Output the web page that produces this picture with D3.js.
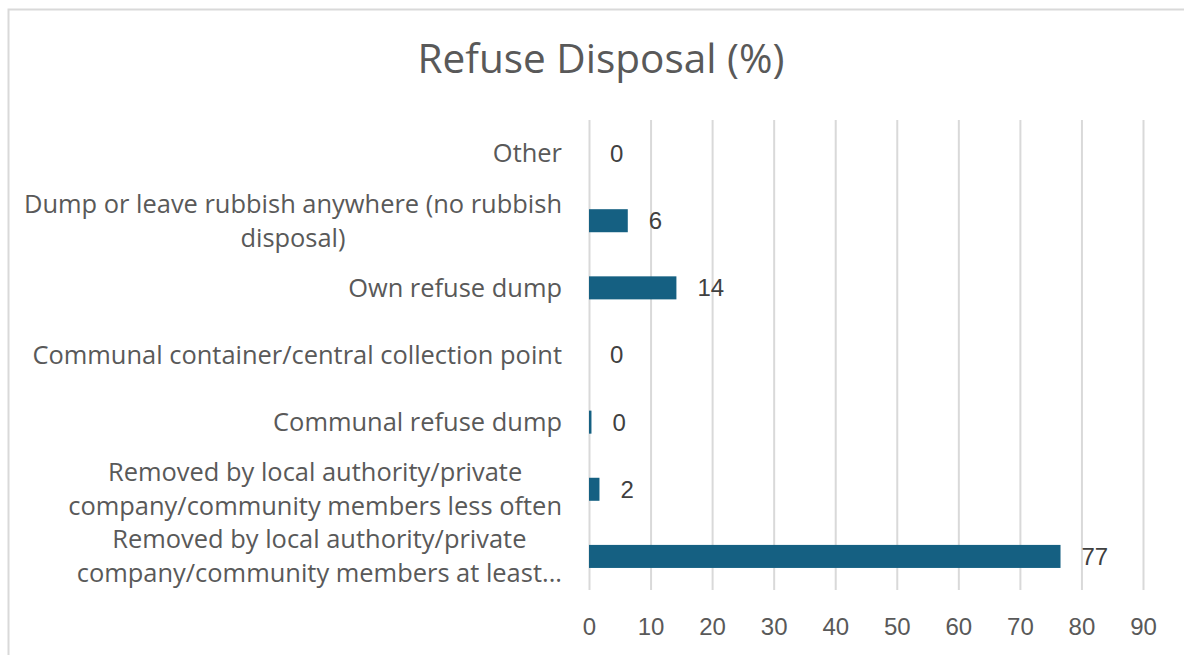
<!DOCTYPE html>
<html><head><meta charset="utf-8">
<script src="https://cdn.jsdelivr.net/npm/d3@7"></script>
<style>body{margin:0;background:#fff;} svg{display:block;}</style>
</head><body>
<svg id="c" width="1184" height="655"></svg>
<script>
const title = "Refuse Disposal (%)";
const categories = [
  "Other",
  "Dump or leave rubbish anywhere (no rubbish\ndisposal)",
  "Own refuse dump",
  "Communal container/central collection point",
  "Communal refuse dump",
  "Removed by local authority/private\ncompany/community members less often",
  "Removed by local authority/private\ncompany/community members at least..."
];
const values = [0, 6.3, 14.2, 0, 0.4, 1.7, 76.6];
const xTicks = [0, 10, 20, 30, 40, 50, 60, 70, 80, 90];

const svg = d3.select("#c");
const W = 1184, H = 655;
const plot = {left: 589, right: 1143, top: 120, bottom: 590};
const barColor = "#156082";
const textColor = "#595959";
const labelColor = "#404040";
const catFont = "'Open Sans', 'Noto Sans', sans-serif";
const numFont = "'Liberation Sans', Arial, sans-serif";

svg.append("rect").attr("x", 0).attr("y", 0).attr("width", W).attr("height", H).attr("fill", "#fff");
svg.append("rect").attr("x", 8.5).attr("y", 9.5).attr("width", W + 20).attr("height", H + 20)
  .attr("fill", "none").attr("stroke", "#d9d9d9").attr("stroke-width", 2);

const x = d3.scaleLinear().domain([0, 90]).range([plot.left, plot.right]);
const y = d3.scaleBand().domain(categories).range([plot.top, plot.bottom])
  .paddingInner(0.657).paddingOuter(0.3285);

// gridlines
const grid = svg.append("g").attr("transform", `translate(0,${plot.bottom})`)
  .call(d3.axisBottom(x).tickValues(xTicks).tickSize(-(plot.bottom - plot.top)).tickFormat(""));
grid.select(".domain").remove();
grid.selectAll("line").attr("stroke", "#d9d9d9").attr("stroke-width", 2);

// tick labels
const ax = svg.append("g").attr("transform", `translate(0,${plot.bottom})`)
  .call(d3.axisBottom(x).tickValues(xTicks).tickSize(0).tickPadding(28).tickFormat(d3.format("d")));
ax.select(".domain").remove();
ax.selectAll("text").attr("fill", textColor).style("font-family", numFont).style("font-size", "24px");

// bars
svg.append("g").selectAll("rect").data(categories).join("rect")
  .attr("x", x(0))
  .attr("y", d => y(d))
  .attr("width", (d, i) => x(values[i]) - x(0))
  .attr("height", y.bandwidth())
  .attr("fill", barColor);

// data labels
const fmt = d3.format(".0f");
svg.append("g").selectAll("text").data(categories).join("text")
  .attr("x", (d, i) => x(values[i]) + 21)
  .attr("y", d => y(d) + y.bandwidth() / 2)
  .attr("dy", "0.35em")
  .attr("fill", labelColor)
  .style("font-family", numFont).style("font-size", "24px")
  .text((d, i) => fmt(values[i]));

// category labels: fit font size so longest single line spans ~530px
const probe = svg.append("text").style("font-family", catFont).style("font-size", "20px")
  .text("Communal container/central collection point");
const catSize = 20 * 530 / probe.node().getComputedTextLength();
probe.remove();
const lineH = 34;
const labelRight = 562;
const cats = svg.append("g");
categories.forEach(c => {
  const lines = c.split("\n");
  const cy = y(c) + y.bandwidth() / 2;
  const t = cats.append("text").attr("fill", textColor)
    .style("font-family", catFont).style("font-size", catSize + "px")
    .attr("text-anchor", "middle");
  lines.forEach((ln, k) => {
    t.append("tspan").attr("x", 0)
      .attr("y", cy + (k - (lines.length - 1) / 2) * lineH)
      .attr("dy", "0.35em").text(ln);
  });
  const w = d3.max(t.selectAll("tspan").nodes(), n => n.getComputedTextLength());
  t.selectAll("tspan").attr("x", labelRight - w / 2);
});

// title
const tt = svg.append("text").attr("x", 601).attr("y", 73).attr("text-anchor", "middle")
  .attr("fill", textColor).style("font-family", catFont).style("font-size", "32px").text(title);
const tw = tt.node().getComputedTextLength();
tt.style("font-size", (32 * 367 / tw) + "px");
</script>
</body></html>
